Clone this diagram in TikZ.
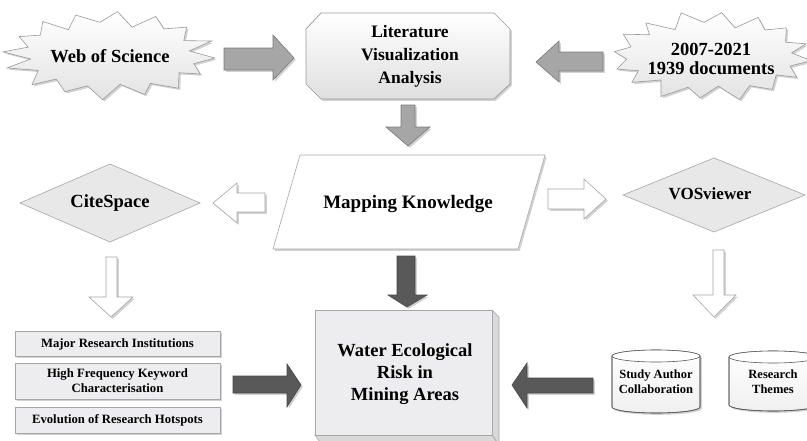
\documentclass[tikz,border=0pt]{standalone}
\usepackage{fontspec}
\setmainfont{Liberation Serif}
\usetikzlibrary{shadows}
\definecolor{midarrow}{HTML}{A6A6A6}
\definecolor{midedge}{HTML}{7A7A7A}
\definecolor{darkarrow}{HTML}{595959}
\definecolor{boxfill}{HTML}{EDEDEF}
\tikzset{
  sh/.style={drop shadow={shadow xshift=1.8pt, shadow yshift=-1.8pt, opacity=0.35}},
  burst/.style={draw=gray!80, line width=0.6pt, top color=white, bottom color=gray!22, sh},
  octo/.style={draw=gray!80, line width=0.7pt, top color=white, bottom color=gray!25, sh},
  plain/.style={draw=gray!70, line width=0.6pt, fill=white, sh},
  dia/.style={draw=gray!70, line width=0.6pt, fill=gray!18},
  midarr/.style={draw=midedge, line width=0.6pt, fill=midarrow, sh},
  whitearr/.style={draw=gray!70, line width=0.6pt, fill=white, sh},
  darkarr/.style={draw=darkarrow!80!black, line width=0.6pt, fill=darkarrow, sh},
  smallbox/.style={draw=gray!70, line width=0.6pt, fill=boxfill, sh},
  cyl/.style={draw=gray!70!black, line width=0.6pt, top color=white, bottom color=gray!12, sh},
  txt/.style={font=\bfseries, align=center, inner sep=0pt},
}
\begin{document}
\begin{tikzpicture}[x=1pt,y=-1pt]
\clip (0,0) rectangle (807,440);
\fill[white] (0,0) rectangle (807,440);

% ---- starbursts ----
\draw[burst] plot[variable=\t, samples=32, domain=0:31]
  ({110+105*(1-0.2*mod(round(\t),2)+0.04*sin(\t*137))*cos(\t*11.25+4)},
   {55+43*(1-0.28*mod(round(\t),2)+0.05*sin(\t*97))*sin(\t*11.25+4)}) -- cycle;
\node[txt, font=\bfseries\fontsize{18.5}{22}\selectfont] (wos) at (110,56) {Web of Science};

\draw[burst] plot[variable=\t, samples=32, domain=0:31]
  ({711+101*(1-0.2*mod(round(\t),2)+0.04*sin(\t*151))*cos(\t*11.25+6)},
   {56+44*(1-0.28*mod(round(\t),2)+0.05*sin(\t*83))*sin(\t*11.25+6)}) -- cycle;
\node[txt, font=\bfseries\fontsize{18.5}{18.5}\selectfont] (docs) at (711,59) {2007-2021\\1939 documents};

% ---- literature octagon ----
\draw[octo] (321,13) -- (494,13) -- (510,29) -- (510,84) -- (494,99) -- (321,99) -- (306,84) -- (306,29) -- cycle;
\node[txt, font=\bfseries\fontsize{17.5}{23}\selectfont] (lit) at (410,56) {Literature\\Visualization\\Analysis};

% ---- top arrows ----
\draw[midarr] (224,48) -- (273,48) -- (273,35) -- (294,58) -- (273,80) -- (273,70) -- (224,70) -- cycle;
\draw[midarr] (603,52) -- (559,52) -- (559,41) -- (536,62) -- (559,82) -- (559,71) -- (603,71) -- cycle;
\draw[midarr] (401,105) -- (415,105) -- (415,127) -- (430,127) -- (408,146) -- (386,127) -- (401,127) -- cycle;

% ---- mapping parallelogram ----
\draw[plain] (300,155) -- (545,155) -- (518,249) -- (273,249) -- cycle;
\node[txt, font=\bfseries\fontsize{19}{22}\selectfont] (map) at (408,204) {Mapping Knowledge};

% ---- diamonds ----
\draw[dia] (20,203) -- (110,164) -- (200,203) -- (110,242) -- cycle;
\node[txt, font=\bfseries\fontsize{18.5}{22}\selectfont] (cite) at (110,203) {CiteSpace};
\draw[dia] (623,195) -- (714,158) -- (805,195) -- (714,232) -- cycle;
\node[txt, font=\bfseries\fontsize{17}{22}\selectfont] (vos) at (710,194) {VOSviewer};

% ---- white arrows ----
\draw[whitearr] (265,193) -- (237,193) -- (237,183) -- (213,203) -- (237,223) -- (237,212) -- (265,212) -- cycle;
\draw[whitearr] (548,189) -- (584,189) -- (584,179) -- (606,199) -- (584,219) -- (584,209) -- (548,209) -- cycle;
\draw[whitearr] (106,257) -- (117,257) -- (117,297) -- (133,297) -- (111,317) -- (89,297) -- (106,297) -- cycle;
\draw[whitearr] (713,250) -- (724,250) -- (724,295) -- (736,295) -- (714,317) -- (693,295) -- (713,295) -- cycle;

% ---- dark arrows ----
\draw[darkarr] (397,256) -- (415,256) -- (415,295) -- (427,295) -- (407,307) -- (388,295) -- (397,295) -- cycle;
\draw[darkarr] (233,376) -- (287,376) -- (287,364) -- (301,385) -- (287,407) -- (287,393) -- (233,393) -- cycle;
\draw[darkarr] (593,378) -- (527,378) -- (527,363) -- (512,385) -- (527,408) -- (527,393) -- (593,393) -- cycle;

% ---- small boxes ----
\draw[smallbox] (15,331) rectangle (220,356);
\node[txt, font=\bfseries\fontsize{12.7}{14}\selectfont] (inst) at (117.5,344) {Major Research Institutions};
\draw[smallbox] (15,363) rectangle (220,399);
\node[txt, font=\bfseries\fontsize{12.7}{15}\selectfont] (kw) at (117.5,381) {High Frequency Keyword\\Characterisation};
\draw[smallbox] (15,407) rectangle (220,433);
\node[txt, font=\bfseries\fontsize{12.7}{14}\selectfont] (hot) at (117.5,420) {Evolution of Research Hotspots};

% ---- water 3D box ----
\fill[gray!30, draw=gray!70, line width=0.6pt] (492,310) -- (499,317) -- (499,445) -- (492,435) -- cycle;
\fill[gray!30, draw=gray!70, line width=0.6pt] (315,435) -- (322,445) -- (499,445) -- (492,435) -- cycle;
\draw[draw=gray!70, line width=0.6pt, fill=boxfill] (315,310) rectangle (492,435);
\node[txt, font=\bfseries\fontsize{18.5}{22}\selectfont] (water) at (405,374) {Water Ecological\\Risk in\\Mining Areas};

% ---- cylinders ----
\path[cyl] (612,356) -- (612,407) arc[start angle=180, end angle=360, x radius=44pt, y radius=6pt] -- (700,356) arc[start angle=0, end angle=180, x radius=44pt, y radius=6pt] -- cycle;
\draw[draw=gray!70!black, line width=0.6pt] (612,356) -- (612,407) arc[start angle=180, end angle=360, x radius=44pt, y radius=6pt] -- (700,356);
\draw[draw=gray!70!black, line width=0.6pt, fill=white] (656,356) ellipse [x radius=44pt, y radius=6pt];
\node[txt, font=\bfseries\fontsize{12.5}{15}\selectfont] (sac) at (656,382) {Study Author\\Collaboration};

\path[cyl] (729,357) -- (729,405) arc[start angle=180, end angle=360, x radius=44pt, y radius=6pt] -- (817,357) arc[start angle=0, end angle=180, x radius=44pt, y radius=6pt] -- cycle;
\draw[draw=gray!70!black, line width=0.6pt] (729,357) -- (729,405) arc[start angle=180, end angle=360, x radius=44pt, y radius=6pt] -- (817,357);
\draw[draw=gray!70!black, line width=0.6pt, fill=white] (773,357) ellipse [x radius=44pt, y radius=6pt];
\node[txt, font=\bfseries\fontsize{12.5}{15}\selectfont] (themes) at (773,382) {Research\\Themes};
\end{tikzpicture}
\end{document}
